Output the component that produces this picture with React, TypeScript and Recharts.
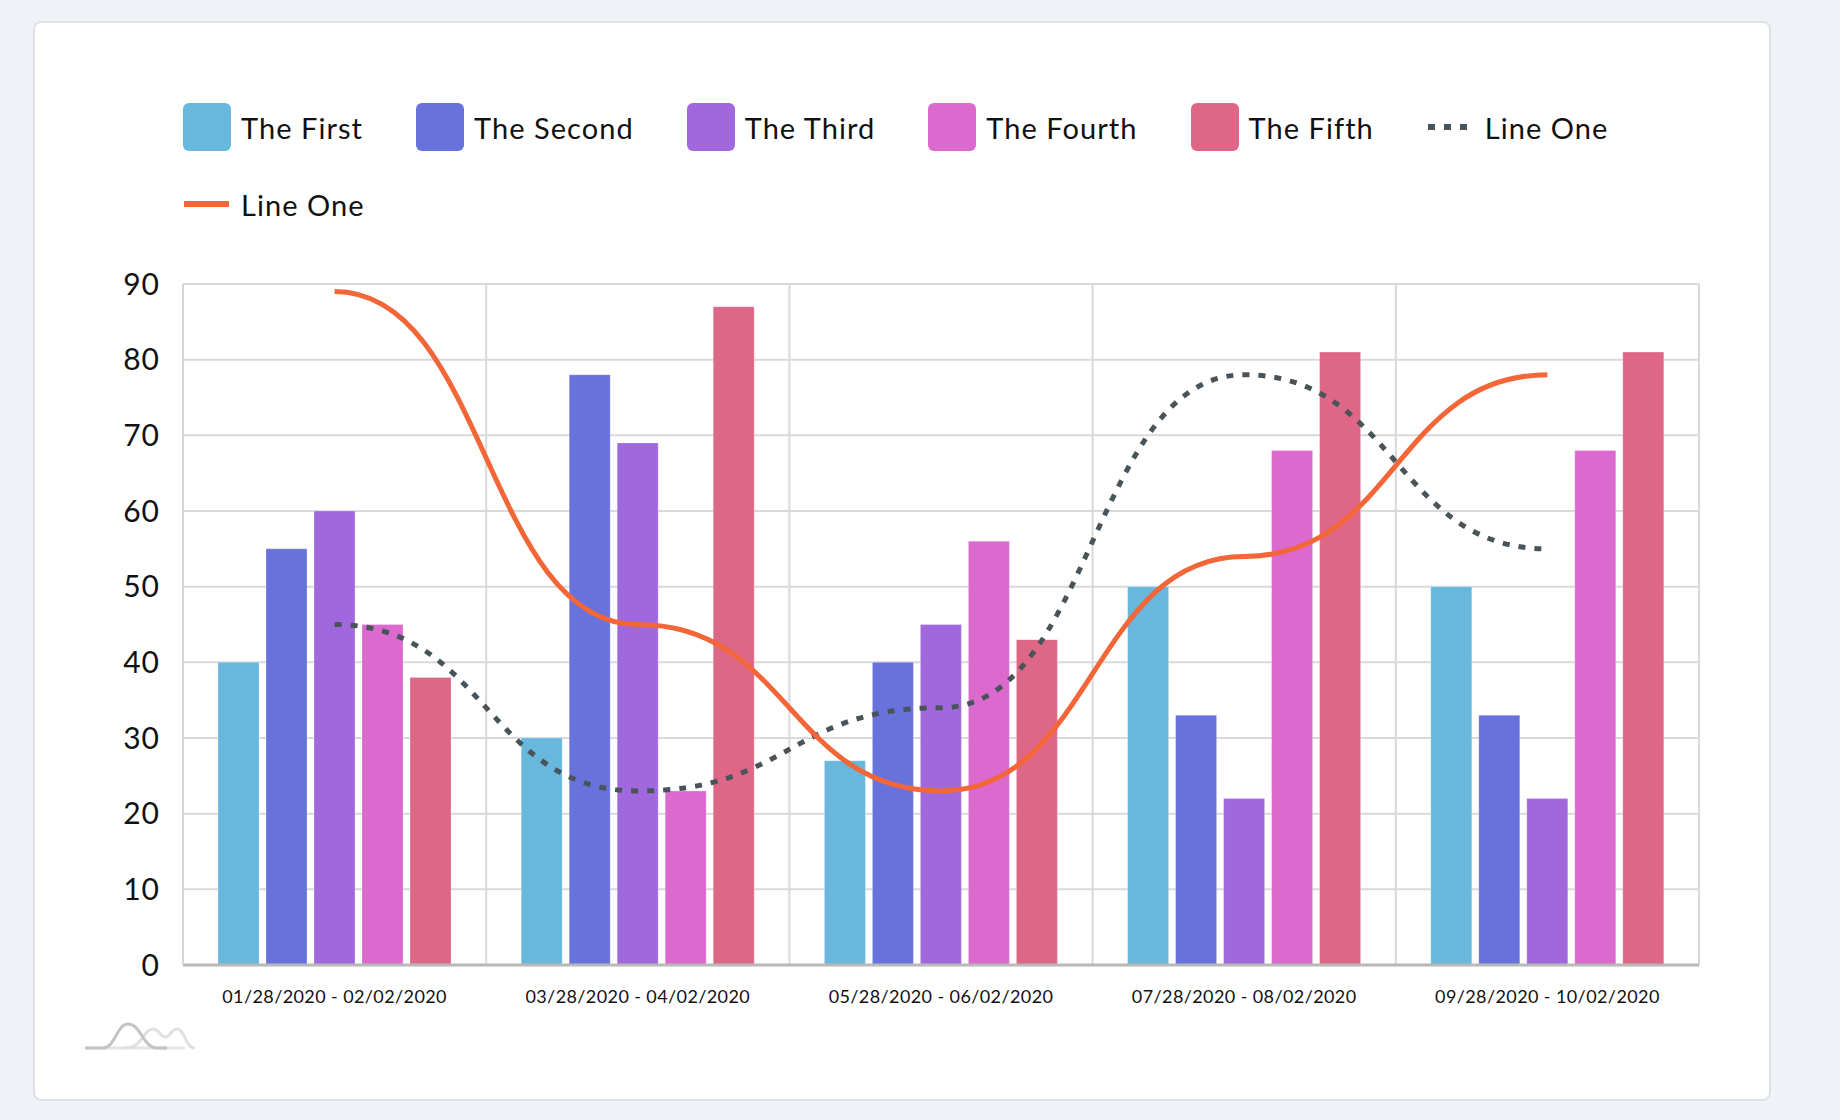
import React from 'react';
import { Bar, ComposedChart, CartesianGrid, Legend, Line, XAxis, YAxis } from 'recharts';

const categories = [
  '01/28/2020 - 02/02/2020',
  '03/28/2020 - 04/02/2020',
  '05/28/2020 - 06/02/2020',
  '07/28/2020 - 08/02/2020',
  '09/28/2020 - 10/02/2020',
];

const theFirst = [40, 30, 27, 50, 50];
const theSecond = [55, 78, 40, 33, 33];
const theThird = [60, 69, 45, 22, 22];
const theFourth = [45, 23, 56, 68, 68];
const theFifth = [38, 87, 43, 81, 81];
const lineDotted = [45, 23, 34, 78, 55];
const lineSolid = [89, 45, 23, 54, 78];

const yTicks = [0, 10, 20, 30, 40, 50, 60, 70, 80, 90];

const barSeries = [
  { key: 'first', name: 'The First', color: '#68b7dc' },
  { key: 'second', name: 'The Second', color: '#6872dc' },
  { key: 'third', name: 'The Third', color: '#a168de' },
  { key: 'fourth', name: 'The Fourth', color: '#dc69cd' },
  { key: 'fifth', name: 'The Fifth', color: '#de6787' },
];

const DOTTED = '#48545a';
const ORANGE = '#f26638';
const FONT = 'Lato, "Open Sans", sans-serif';

const data = categories.map((category, i) => ({
  category,
  first: theFirst[i],
  second: theSecond[i],
  third: theThird[i],
  fourth: theFourth[i],
  fifth: theFifth[i],
  dotted: lineDotted[i],
  solid: lineSolid[i],
}));

const legendItems = [
  ...barSeries.map((s) => ({ name: s.name, color: s.color, kind: 'box' })),
  { name: 'Line One', color: DOTTED, kind: 'dots' },
  { name: 'Line One', color: ORANGE, kind: 'line' },
];

const ChartLegend = () => (
  <div
    style={{
      display: 'flex',
      flexWrap: 'wrap',
      rowGap: 29,
      fontFamily: FONT,
      fontSize: 29,
      letterSpacing: 1.05,
      color: '#111',
    }}
  >
    {legendItems.map((item, i) => (
      <div key={i} style={{ display: 'flex', alignItems: 'center', height: 48, marginRight: 53 }}>
        {item.kind === 'box' ? (
          <div style={{ width: 48, height: 48, borderRadius: 6, background: item.color }} />
        ) : (
          <svg width={48} height={48}>
            <line
              x1={1}
              x2={46}
              y1={24}
              y2={24}
              stroke={item.color}
              strokeWidth={6}
              strokeDasharray={item.kind === 'dots' ? '7 9' : undefined}
            />
          </svg>
        )}
        <span style={{ marginLeft: 10 }}>{item.name}</span>
      </div>
    ))}
  </div>
);

// grid verticals sit on the category boundaries, not on the tick centres
const boundaryLines = ({ offset }: any) =>
  categories.map((_, i) => offset.left + ((i + 1) * offset.width) / categories.length);

const Logo = () => (
  <svg width={112} height={30} style={{ position: 'absolute', left: 85, top: 1021 }}>
    <path d="M0 27 H100" stroke="#e3e3e3" strokeWidth={3} fill="none" />
    <path d="M40 27 C58 27 58 8 68 8 C74 8 75 16 80 16 C86 16 86 8 92 8 C100 8 100 27 110 27" stroke="#e0e0e0" strokeWidth={3} fill="none" />
    <path d="M0 27 H18 C30 27 32 3 43 3 C56 3 58 27 72 27 H82" stroke="#c4c4c4" strokeWidth={3} fill="none" />
  </svg>
);

export default function App() {
  return (
    <div style={{ position: 'fixed', left: 0, top: 0, width: 1840, height: 1120, background: '#eff2f7' }}>
      <div
        style={{
          position: 'absolute',
          left: 33,
          top: 21,
          width: 1738,
          height: 1080,
          boxSizing: 'border-box',
          background: '#fff',
          border: '2px solid #dfe1e5',
          borderRadius: 8,
        }}
      />
      <div style={{ position: 'absolute', left: 33, top: 21 }}>
        <ComposedChart
          width={1738}
          height={1080}
          data={data}
          margin={{ top: 263, right: 72, bottom: 76, left: 0 }}
          barSize={41}
          barGap={7}
        >
          <CartesianGrid stroke="#d9d9d9" strokeWidth={2} verticalCoordinatesGenerator={boundaryLines} />
          <XAxis
            dataKey="category"
            height={60}
            tickLine={false}
            tickSize={0}
            tickMargin={25}
            axisLine={{ stroke: '#b8b8b8', strokeWidth: 3 }}
            tick={{ fill: '#111', fontSize: 18, fontFamily: FONT, letterSpacing: 0.4 }}
            interval={0}
          />
          <YAxis
            width={150}
            domain={[0, 90]}
            ticks={yTicks}
            tickLine={false}
            tickSize={0}
            tickMargin={23}
            axisLine={{ stroke: '#d4d4d4', strokeWidth: 2 }}
            tick={{ fill: '#111', fontSize: 30, fontFamily: FONT, letterSpacing: 1 }}
          />
          <Legend
            layout="horizontal"
            verticalAlign="middle"
            align="center"
            wrapperStyle={{ top: 82, left: 150, width: 1560 }}
            content={() => <ChartLegend />}
          />
          {barSeries.map((s) => (
            <Bar
              key={s.key}
              dataKey={s.key}
              name={s.name}
              fill={s.color}
              stroke="#ffffff"
              strokeOpacity={0.25}
              strokeWidth={1}
              isAnimationActive={false}
            />
          ))}
          <Line
            type="bumpX"
            dataKey="dotted"
            name="Line One"
            stroke={DOTTED}
            strokeWidth={5}
            strokeDasharray="7 9"
            dot={false}
            activeDot={false}
            isAnimationActive={false}
          />
          <Line
            type="bumpX"
            dataKey="solid"
            name="Line One"
            stroke={ORANGE}
            strokeWidth={5}
            dot={false}
            activeDot={false}
            isAnimationActive={false}
          />
        </ComposedChart>
      </div>
      <Logo />
    </div>
  );
}
